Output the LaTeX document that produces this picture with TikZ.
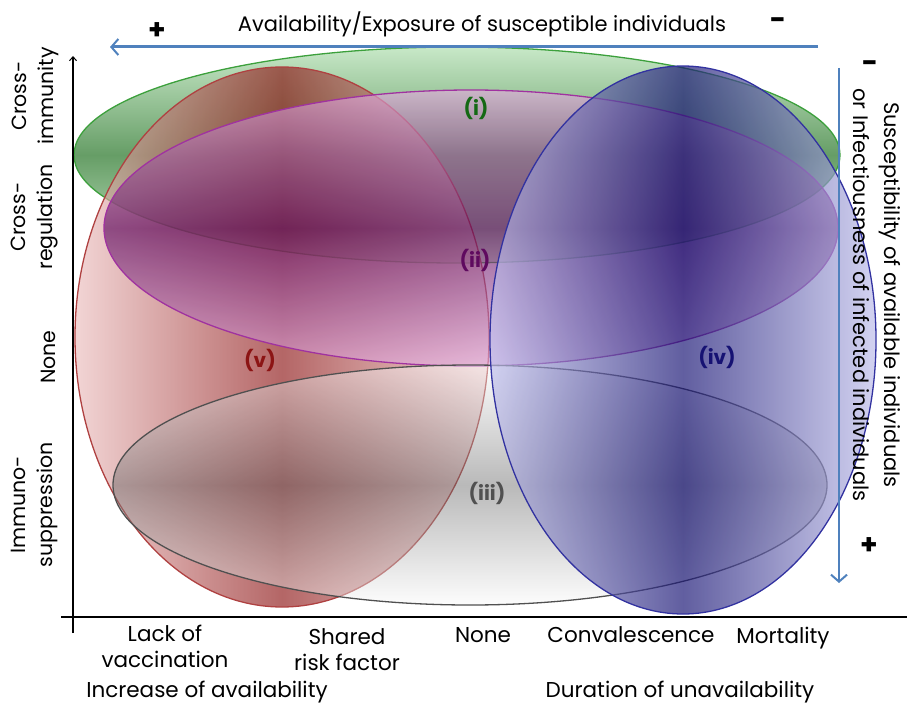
\documentclass[tikz,border=0pt]{standalone}
\usepackage{fontspec}
\setmainfont{Poppins}
\usetikzlibrary{arrows.meta,positioning}

\definecolor{axisblue}{RGB}{79,129,189}
\definecolor{imgreen}{RGB}{60,160,60}
\definecolor{imgreendk}{RGB}{20,105,20}
\definecolor{imgreenlt}{RGB}{170,220,170}
\definecolor{regpurple}{RGB}{160,50,160}
\definecolor{regpurpledk}{RGB}{95,10,95}
\definecolor{regpurplelt}{RGB}{225,170,220}
\definecolor{supgray}{RGB}{80,80,80}
\definecolor{supgraydk}{RGB}{100,100,100}
\definecolor{supgraylt}{RGB}{250,250,250}
\definecolor{mortblue}{RGB}{50,50,160}
\definecolor{mortbluedk}{RGB}{22,18,115}
\definecolor{mortbluelt}{RGB}{190,190,235}
\definecolor{vacred}{RGB}{175,65,65}
\definecolor{vacreddk}{RGB}{140,20,20}
\definecolor{vacredlt}{RGB}{235,190,190}

\begin{document}
\begin{tikzpicture}[x=1pt,y=-1pt,
  lbl/.style={font=\fontsize{21.5}{26}\selectfont,align=center,inner sep=0pt},
  ylbl/.style={lbl,rotate=90,font=\fontsize{20.5}{27}\selectfont},
  tag/.style={font=\fontsize{20}{22}\selectfont\bfseries,inner sep=0pt},
  sign/.style={font=\fontsize{28}{28}\selectfont\bfseries,inner sep=0pt},
  axisline/.style={line width=2.6pt,black},
  bluearrow/.style={axisblue,line width=3pt,-{Straight Barb[length=7pt,width=16pt,line width=2pt]}},
  blob/.style={line width=1.3pt,fill opacity=#1},
  blob/.default=0.65
]
\useasboundingbox (0,0) rectangle (907,706);

% overlapping mechanism areas
\shadedraw[blob=0.65,draw=imgreen,top color=imgreenlt,bottom color=imgreenlt,middle color=imgreendk]
  (457,155) ellipse [x radius=383,y radius=108];
\shadedraw[blob,draw=vacred,left color=vacredlt,right color=vacredlt,middle color=vacreddk]
  (282,337) ellipse [x radius=207,y radius=270];
\shadedraw[blob,draw=regpurple,top color=regpurplelt,bottom color=regpurplelt,middle color=regpurpledk]
  (471,228) ellipse [x radius=367,y radius=138];
\shadedraw[blob=0.45,draw=supgray,top color=supgraylt,bottom color=supgraylt,middle color=supgraydk]
  (470,485) ellipse [x radius=357,y radius=120];
\shadedraw[blob=0.68,draw=mortblue,left color=mortbluelt,right color=mortbluelt,middle color=mortbluedk]
  (683,340) ellipse [x radius=193,y radius=274];

\node[tag,text=imgreendk]   (i)   at (476,108) {(i)};
\node[tag,text=regpurpledk] (ii)  at (475,260) {(ii)};
\node[tag,text=supgray]     (iii) at (487,493) {(iii)};
\node[tag,text=mortbluedk]  (iv)  at (717,357) {(iv)};
\node[tag,text=vacreddk]    (v)   at (260,360) {(v)};

% axes
\coordinate (ybot) at (73,633);
\coordinate (ytop) at (73,56);
\coordinate (xleft) at (61,617);
\coordinate (xright) at (907,617);
\draw[axisline,-{Straight Barb[length=4pt,width=7pt,line width=1pt]}] (ybot) -- (ytop);
\draw[axisline] (xleft) -- (xright);

% availability arrow
\coordinate (avr) at (818,47);
\coordinate (avl) at (110,47);
\draw[bluearrow] (avr) -- (avl);
\node[lbl,font=\fontsize{21}{26}\selectfont] (avail) at (482,24) {Availability/Exposure of susceptible individuals};
\node[sign] (avplus) at (157,31) {+};
\node[sign] (avminus) at (778,24) {-};

% susceptibility arrow
\coordinate (sut) at (839,68);
\coordinate (sub) at (839,583);
\draw[bluearrow,line width=2.4pt] (sut) -- (sub);
\node[lbl,rotate=-90,font=\fontsize{21}{31}\selectfont] (susc) at (877,295) {Susceptibility of available individuals\\or Infectiousness of infected individuals};
\node[sign] (suminus) at (870,67) {-};
\node[sign] (suplus) at (869,546) {+};

% y labels
\node[ylbl] (crossim)  at (35,96)  {Cross-\\immunity};
\node[ylbl] (crossreg) at (35,217) {Cross-\\regulation};
\node[ylbl] (ynone)    at (48,357) {None};
\node[ylbl] (immsup)   at (35,505) {Immuno-\\suppression};

% x labels
\node[lbl] (lack)   at (165,646) {Lack of\\vaccination};
\node[lbl] (shared) at (347,650) {Shared\\risk factor};
\node[lbl] (xnone)  at (483,635) {None};
\node[lbl] (conv)   at (631,635) {Convalescence};
\node[lbl] (mort)   at (783,638) {Mortality};
\node[lbl] (incr)   at (207,692) {Increase of availability};
\node[lbl] (durn)   at (680,692) {Duration of unavailability};
\end{tikzpicture}
\end{document}
